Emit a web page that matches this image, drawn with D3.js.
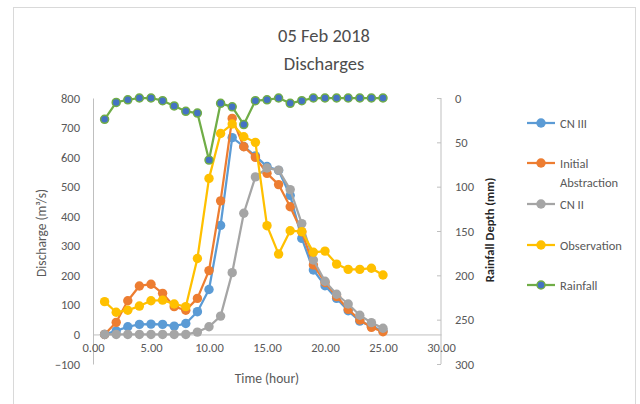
<!DOCTYPE html>
<html>
<head>
<meta charset="utf-8">
<script src="https://cdn.jsdelivr.net/npm/d3@7"></script>
<style>
  body { margin: 0; background: #fff; }
  text { font-family: Carlito, Lato, "Open Sans", sans-serif; }
</style>
</head>
<body>
<svg width="640" height="404"></svg>
<script>
// hours
const hours = d3.range(1, 26);

// discharges (m3/s)
const cn3 = [0, 12, 26, 34, 35, 34, 28, 37, 77, 152, 369, 666, 636, 604, 568, 555, 470, 325, 218, 165, 122, 80, 45, 28, 12];
const initialAbs = [0, 41, 114, 164, 170, 139, 94, 82, 122, 216, 452, 731, 635, 599, 545, 507, 432, 347, 235, 176, 128, 85, 49, 24, 9];
const cn2 = [0, 0, 0, 0, 0, 0, 0, 0, 8, 26, 62, 209, 410, 533, 563, 556, 490, 375, 252, 180, 136, 103, 65, 40, 21];
const observation = [111, 75, 82, 96, 114, 116, 103, 94, 257, 528, 680, 712, 669, 650, 368, 272, 351, 348, 278, 282, 238, 220, 220, 224, 201];

// rainfall depth (mm), right axis reversed
const rainfall = [24, 5, 2, 0, 0, 3, 9, 15, 17, 70, 6, 10, 30, 3, 2, 0, 6, 3, 0, 0, 0, 0, 0, 0, 0];

const xTicks = [0, 5, 10, 15, 20, 25, 30];
const leftTicks = [-100, 0, 100, 200, 300, 400, 500, 600, 700, 800];
const rightTicks = [0, 50, 100, 150, 200, 250, 300];

const svg = d3.select("svg");
const axisColor = "#bfbfbf";
const labelColor = "#595959";

// chart border
svg.append("rect")
  .attr("x", 13.5).attr("y", 7.5)
  .attr("width", 622).attr("height", 400)
  .attr("fill", "#fff").attr("stroke", "#d9d9d9");

const x = d3.scaleLinear().domain([0, 30]).range([93, 441]);
const yL = d3.scaleLinear().domain([-100, 800]).range([364, 98]);
const yR = d3.scaleLinear().domain([0, 300]).range([98, 364]);

// title
svg.append("text").attr("x", 324).attr("y", 42).attr("text-anchor", "middle")
  .attr("font-size", 18.5).attr("fill", "#4d4d4d").text("05 Feb 2018");
svg.append("text").attr("x", 324).attr("y", 70).attr("text-anchor", "middle")
  .attr("font-size", 18.5).attr("fill", "#4d4d4d").text("Discharges");

// left axis
const gl = svg.append("g").attr("transform", `translate(${x(0)},0)`)
  .call(d3.axisLeft(yL).tickValues(leftTicks).tickSize(0).tickPadding(13));
gl.select(".domain").attr("stroke", axisColor);
gl.selectAll("text").attr("font-size", 12.5).attr("fill", labelColor).attr("font-family", null);

// right axis
const gr = svg.append("g").attr("transform", `translate(${x(30)},0)`)
  .call(d3.axisRight(yR).tickValues(rightTicks).tickSize(-4).tickPadding(14));
gr.select(".domain").attr("stroke", axisColor).attr("d", `M0,${yR(0)}V${yR(300)}`);
gr.selectAll("line").attr("stroke", axisColor);
gr.selectAll("text").attr("font-size", 12.5).attr("fill", labelColor).attr("font-family", null);

// x axis on zero line
const gx = svg.append("g").attr("transform", `translate(0,${yL(0)})`)
  .call(d3.axisBottom(x).tickValues(xTicks).tickSize(0).tickPadding(9).tickFormat(d3.format(".2f")));
gx.select(".domain").attr("stroke", axisColor);
gx.selectAll("text").attr("font-size", 12.5).attr("fill", labelColor).attr("font-family", null);

// axis titles
svg.append("text").attr("transform", "translate(46,233) rotate(-90)")
  .attr("text-anchor", "middle").attr("font-size", 13.5).attr("fill", labelColor)
  .text("Discharge (m³/s)");
svg.append("text").attr("transform", "translate(494,230) rotate(-90)")
  .attr("text-anchor", "middle").attr("font-size", 12.5).attr("font-weight", "bold").attr("fill", "#262626")
  .text("Rainfall Depth (mm)");
svg.append("text").attr("x", 267).attr("y", 383).attr("text-anchor", "middle")
  .attr("font-size", 13.5).attr("fill", labelColor).text("Time (hour)");

const series = [
  { name: ["CN III"], values: cn3, color: "#5B9BD5", fill: "#5B9BD5", y: yL, ly: 123 },
  { name: ["Initial", "Abstraction"], values: initialAbs, color: "#ED7D31", fill: "#ED7D31", y: yL, ly: 163 },
  { name: ["CN II"], values: cn2, color: "#A5A5A5", fill: "#A5A5A5", y: yL, ly: 204 },
  { name: ["Observation"], values: observation, color: "#FFC000", fill: "#FFC000", y: yL, ly: 245 },
  { name: ["Rainfall"], values: rainfall, color: "#70AD47", fill: "#4472C4", y: yR, ly: 285 }
];

series.forEach(s => {
  const pts = hours.map((h, i) => [h, s.values[i]]);
  const line = d3.line().x(d => x(d[0])).y(d => s.y(d[1]));
  svg.append("path").datum(pts)
    .attr("fill", "none").attr("stroke", s.color).attr("stroke-width", 2.25)
    .attr("stroke-linejoin", "round").attr("d", line);
  svg.append("g").selectAll("circle").data(pts).join("circle")
    .attr("cx", d => x(d[0])).attr("cy", d => s.y(d[1]))
    .attr("r", s.fill === s.color ? 4.7 : 4)
    .attr("fill", s.fill)
    .attr("stroke", s.color).attr("stroke-width", s.fill === s.color ? 0 : 1.5);

  // legend entry
  const lg = svg.append("g");
  lg.append("line").attr("x1", 527).attr("x2", 555).attr("y1", s.ly).attr("y2", s.ly)
    .attr("stroke", s.color).attr("stroke-width", 2.25);
  lg.append("circle").attr("cx", 541).attr("cy", s.ly)
    .attr("r", s.fill === s.color ? 4.7 : 4).attr("fill", s.fill)
    .attr("stroke", s.color).attr("stroke-width", s.fill === s.color ? 0 : 1.5);
  s.name.forEach((t, k) => {
    lg.append("text").attr("x", 560).attr("y", s.ly + 4.5 + k * 19)
      .attr("font-size", 12.5).attr("fill", labelColor).text(t);
  });
});
</script>
</body>
</html>
